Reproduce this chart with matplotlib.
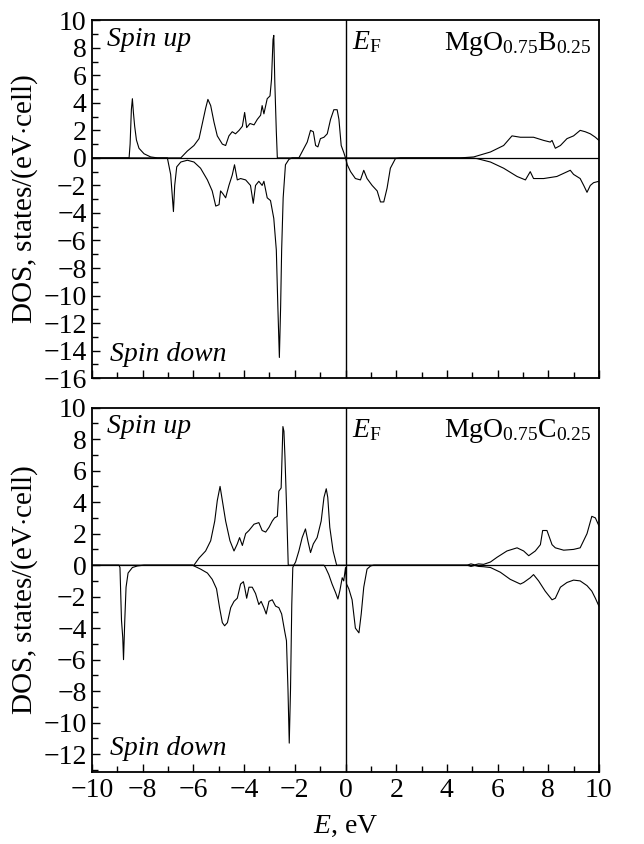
import matplotlib
matplotlib.use("Agg")
import matplotlib.pyplot as plt
from matplotlib.ticker import MultipleLocator

plt.rcParams['font.family'] = ['Liberation Serif', 'DejaVu Serif']
plt.rcParams['mathtext.fontset'] = 'custom'
plt.rcParams['mathtext.rm'] = 'Liberation Serif'
plt.rcParams['mathtext.it'] = 'Liberation Serif:italic'
plt.rcParams['mathtext.bf'] = 'Liberation Serif:bold'

# MgO0.75B0.25, spin up
b_up_e = [-10, -8.54, -8.50, -8.45, -8.41, -8.37, -8.32, -8.25, -8.15, -7.95, -7.69, -7.42,
          -6.50, -6.24, -5.98, -5.78, -5.65, -5.52, -5.43, -5.32, -5.19, -5.06, -4.86, -4.73,
          -4.60, -4.47, -4.34, -4.20, -4.07, -3.98, -3.90, -3.77, -3.61, -3.48, -3.35, -3.29,
          -3.22, -3.09, -2.98, -2.92, -2.86, -2.83, -2.79, -2.73, -2.69, -1.84, -1.64, -1.51,
          -1.38, -1.27, -1.18, -1.09, -0.99, -0.85, -0.72, -0.59, -0.46, -0.33, -0.26, -0.17,
          -0.07, 0.0, 4.53, 5.06, 5.72, 6.24, 6.57, 6.90, 7.42, 7.82, 8.08, 8.15, 8.28, 8.48,
          8.74, 9.00, 9.26, 9.46, 9.66, 9.86, 10.0]
b_up = [0, 0, 1.0, 3.5, 4.3, 3.3, 2.3, 1.3, 0.7, 0.3, 0.07, 0,
        0, 0.5, 0.9, 1.4, 2.5, 3.6, 4.25, 3.8, 2.6, 1.6, 1.0, 0.9,
        1.6, 1.9, 1.75, 2.0, 2.3, 3.3, 2.2, 2.5, 2.4, 2.8, 3.1, 3.8,
        3.2, 4.3, 4.5, 5.7, 8.6, 8.9, 5.5, 1.9, 0, 0, 0.7, 1.15,
        2.0, 1.9, 0.9, 0.8, 1.4, 1.5, 1.75, 2.8, 3.5, 3.5, 2.8, 0.9,
        0.4, 0, 0, 0.07, 0.43, 0.9, 1.6, 1.5, 1.5, 1.27, 1.15, 1.27, 0.7, 0.9,
        1.4, 1.6, 2.0, 1.9, 1.75, 1.5, 1.27]

# MgO0.75B0.25, spin down
b_dn_e = [-10, -7.03, -6.90, -6.83, -6.79, -6.74, -6.66, -6.50, -6.24, -5.98, -5.72, -5.45,
          -5.26, -5.12, -4.99, -4.93, -4.84, -4.73, -4.60, -4.47, -4.38, -4.27, -4.14, -3.94,
          -3.75, -3.64, -3.55, -3.42, -3.29, -3.22, -3.09, -2.96, -2.83, -2.73, -2.67, -2.61,
          -2.56, -2.52, -2.46, -2.37, -2.23, -2.10, 0.0, 0.07, 0.20, 0.39, 0.59, 0.72, 0.85,
          1.05, 1.25, 1.38, 1.51, 1.64, 1.77, 1.97, 2.17, 4.93, 5.19, 5.72, 6.24, 6.77, 7.10,
          7.29, 7.42, 7.82, 8.34, 8.87, 9.00, 9.26, 9.40, 9.53, 9.66, 9.79, 10.0]
b_dn = [0, 0, -1.2, -2.9, -3.9, -2.0, -0.65, -0.3, -0.17, -0.3, -0.75, -1.6,
        -2.4, -3.5, -3.4, -2.4, -2.6, -2.9, -2.0, -1.25, -0.5, -1.6, -1.5, -1.6,
        -2.0, -3.3, -2.0, -1.7, -2.0, -1.7, -2.9, -3.1, -4.4, -6.7, -10.8, -14.5,
        -10.8, -6.7, -2.9, -0.5, -0.1, 0, 0, -0.5, -1.0, -1.5, -1.6, -0.9, -1.5,
        -2.0, -2.4, -3.2, -3.2, -2.2, -0.75, -0.05, 0, 0, -0.05, -0.3, -0.75, -1.35, -1.6,
        -1.0, -1.5, -1.5, -1.35, -0.9, -1.2, -1.5, -2.0, -2.5, -2.0, -1.8, -1.7]

# MgO0.75C0.25, spin up
c_up_e = [-10, -5.98, -5.78, -5.52, -5.32, -5.16, -5.06, -4.95, -4.86, -4.73, -4.56, -4.40,
          -4.27, -4.18, -4.07, -3.94, -3.81, -3.61, -3.42, -3.29, -3.15, -3.02, -2.89, -2.80,
          -2.69, -2.63, -2.54, -2.47, -2.43, -2.39, -2.33, -2.26, -2.04, -1.97, -1.84, -1.71,
          -1.58, -1.48, -1.38, -1.27, -1.12, -0.96, -0.85, -0.76, -0.70, -0.62, -0.49, -0.35,
          4.80, 4.95, 5.10, 5.25, 5.45, 5.72, 5.98, 6.37, 6.77, 7.03, 7.23, 7.49, 7.69, 7.78,
          7.95, 8.15, 8.28, 8.61, 9.00, 9.26, 9.53, 9.72, 9.86, 10.0]
c_up = [0, 0, 0.45, 0.9, 1.55, 2.8, 4.1, 5.0, 4.1, 2.8, 1.55, 0.9,
        1.35, 1.75, 1.25, 2.0, 2.2, 2.6, 2.7, 2.2, 2.1, 2.4, 2.8, 3.0,
        3.1, 4.7, 4.9, 8.8, 8.5, 6.9, 3.9, 0, 0, 0.2, 0.9, 1.75,
        2.3, 1.5, 0.8, 1.35, 1.75, 2.8, 4.3, 4.85, 4.3, 2.4, 0.9, 0,
        0, 0.08, 0.02, 0.08, 0.05, 0.2, 0.5, 0.9, 1.1, 0.9, 0.6, 0.9, 1.3, 2.2,
        2.2, 1.3, 1.1, 0.95, 1.0, 1.1, 2.0, 3.1, 3.0, 2.5]

# MgO0.75C0.25, spin down
c_dn_e = [-10, -8.94, -8.90, -8.84, -8.79, -8.76, -8.71, -8.66, -8.58, -8.41, -8.21, -7.95,
          -6.04, -5.98, -5.72, -5.45, -5.26, -5.09, -4.97, -4.86, -4.77, -4.66, -4.53, -4.40,
          -4.27, -4.14, -4.03, -3.98, -3.90, -3.81, -3.68, -3.55, -3.42, -3.33, -3.22, -3.13,
          -3.02, -2.89, -2.76, -2.63, -2.52, -2.40, -2.33, -2.27, -2.22, -2.17, -2.12, -2.08,
          -2.04, -0.85, -0.79, -0.66, -0.53, -0.39, -0.30, -0.22, -0.13, -0.07, 0.0, 0.04,
          0.13, 0.26, 0.39, 0.53, 0.62, 0.72, 0.85, 0.99, 1.12, 4.80, 4.95, 5.10, 5.25, 5.45,
          5.72, 6.11, 6.50, 6.90, 7.03, 7.29, 7.42, 7.62, 7.88, 8.15, 8.28, 8.48, 8.74, 9.00,
          9.26, 9.53, 9.72, 9.86, 10.0]
c_dn = [0, 0, -0.15, -3.5, -4.6, -6.0, -3.5, -1.4, -0.5, -0.15, -0.05, 0,
        0, -0.05, -0.25, -0.5, -0.9, -1.5, -2.7, -3.65, -3.85, -3.65, -2.7, -2.3,
        -2.1, -1.2, -1.05, -1.4, -2.1, -1.4, -1.4, -1.8, -2.5, -2.3, -2.7, -3.1,
        -2.3, -2.2, -2.6, -2.7, -3.1, -4.2, -4.8, -7.9, -11.3, -7.9, -2.5, -0.15,
        0, 0, -0.15, -0.6, -1.2, -1.75, -2.15, -1.6, -0.8, -1.0, -0.15, -1.2,
        -1.5, -2.2, -4.0, -4.3, -3.1, -1.4, -0.25, -0.05, 0, 0, -0.08, -0.02, -0.08, -0.1,
        -0.15, -0.45, -0.9, -1.2, -1.1, -0.8, -0.6, -1.0, -1.65, -2.2, -2.1, -1.4, -1.1, -0.95,
        -1.0, -1.3, -1.65, -2.1, -2.6]

fig = plt.figure(figsize=(6.44, 8.44), dpi=100)
ax1 = fig.add_axes([0.143, 0.552, 0.787, 0.424])
ax2 = fig.add_axes([0.143, 0.085, 0.787, 0.432])

panels = [
    (ax1, b_up_e, b_up, b_dn_e, b_dn, (-16, 10), 'B'),
    (ax2, c_up_e, c_up, c_dn_e, c_dn, (-13.15, 10), 'C'),
]

fs = 20
for ax, ue, u, de, d, ylim, dop in panels:
    ax.plot(ue, u, color='black', lw=0.8)
    ax.plot(de, d, color='black', lw=0.8)
    ax.axhline(0, color='black', lw=0.9)
    ax.axvline(0, color='black', lw=1.0)
    ax.set_xlim(-10, 10)
    ax.set_ylim(*ylim)
    ax.xaxis.set_major_locator(MultipleLocator(2))
    ax.xaxis.set_minor_locator(MultipleLocator(1))
    ax.yaxis.set_major_locator(MultipleLocator(2))
    ax.yaxis.set_minor_locator(MultipleLocator(1))
    ax.tick_params(which='both', direction='in', top=False, right=False,
                   labelsize=fs, width=1.0, pad=4)
    ax.tick_params(which='major', length=6)
    ax.tick_params(which='minor', length=4)
    for sp in ax.spines.values():
        sp.set_linewidth(1.3)
    ax.set_ylabel('DOS, states/(eV$\\cdot$cell)', fontsize=21, labelpad=2)
    ax.text(0.03, 0.982, 'Spin up', transform=ax.transAxes, fontsize=fs,
            fontstyle='italic', family='Liberation Serif', ha='left', va='top')
    ax.text(0.035, 0.03, 'Spin down', transform=ax.transAxes, fontsize=fs,
            fontstyle='italic', family='Liberation Serif', ha='left', va='bottom')
    ax.text(0.513, 0.975, '$E_{\\mathrm{F}}$', transform=ax.transAxes, fontsize=fs,
            ha='left', va='top')
    ax.text(0.985, 0.935, 'MgO$_{0.75}$' + dop + '$_{0.25}$', transform=ax.transAxes,
            fontsize=fs, ha='right', va='center')

ax1.tick_params(labelbottom=False)
ax2.set_xlabel('$E$, eV', fontsize=fs, labelpad=8)

fig.savefig('out.png', dpi=100)
